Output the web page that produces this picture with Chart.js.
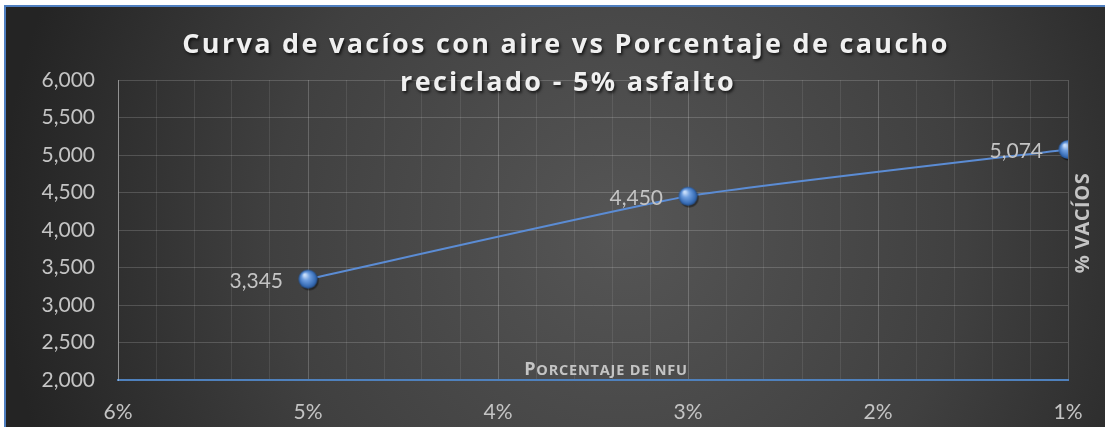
<!DOCTYPE html>
<html><head><meta charset="utf-8">
<script src="https://cdn.jsdelivr.net/npm/chart.js@4"></script>
<style>html,body{margin:0;padding:0;background:#fff;}#wrap{width:1105px;height:427px;}</style>
</head><body><div id="wrap"><canvas id="c" width="1105" height="427"></canvas></div>
<script>
const titleLines = ['Curva de vacíos con aire vs Porcentaje de caucho', 'reciclado - 5% asfalto'];
const xAxisTitle = 'Porcentaje de nfu';
const yAxisTitle = '% VACÍOS';
const nfuPercent = [5, 3, 1];
const vacios = [3.345, 4.450, 5.074];
const xMin = 1, xMax = 6, xMinorStep = 0.2;
const yMin = 2, yMax = 6, yStep = 0.5;

function fmt3(v){ return v.toFixed(3).replace('.', ','); }

function makeSphere(r){
  const s = r*2+6, c = document.createElement('canvas'); c.width = s; c.height = s;
  const g = c.getContext('2d'); const cx = s/2, cy = s/2;
  g.beginPath(); g.arc(cx+1.2, cy+1.8, r, 0, Math.PI*2); g.fillStyle='rgba(0,0,0,0.45)'; g.fill();
  const grad = g.createRadialGradient(cx-r*0.35, cy-r*0.45, r*0.1, cx, cy, r);
  grad.addColorStop(0, '#c9defa'); grad.addColorStop(0.35, '#6f9fe0'); grad.addColorStop(0.8, '#3a6fb8'); grad.addColorStop(1, '#224f8e');
  g.beginPath(); g.arc(cx, cy, r, 0, Math.PI*2); g.fillStyle = grad; g.fill();
  return c;
}
const sphere = makeSphere(9.5);
const labelFont = '21px Lato, "Open Sans", sans-serif';
const labelColor = '#c4c4c4';

const bgPlugin = {
  id: 'bg',
  beforeDraw(chart){
    const ctx = chart.ctx, W = chart.width, H = chart.height;
    ctx.save();
    ctx.fillStyle = '#ffffff'; ctx.fillRect(0,0,W,H);
    const g = ctx.createRadialGradient(620, 230, 10, 620, 230, 620);
    g.addColorStop(0, '#555555'); g.addColorStop(0.55, '#404040'); g.addColorStop(1, '#242424');
    ctx.fillStyle = g; ctx.fillRect(5, 6, W-5, H-6);
    ctx.strokeStyle = '#4f7fc0'; ctx.lineWidth = 2;
    ctx.beginPath(); ctx.moveTo(5, H); ctx.lineTo(5, 6); ctx.lineTo(W, 6); ctx.stroke();
    ctx.restore();
  },
  afterDatasetsDraw(chart){
    const ctx = chart.ctx, meta = chart.getDatasetMeta(0);
    ctx.save();
    ctx.font = labelFont;
    ctx.fillStyle = labelColor; ctx.textAlign = 'right'; ctx.textBaseline = 'middle';
    meta.data.forEach((p, i) => { ctx.fillText(fmt3(vacios[i]), p.x - 25, p.y + 2); });
    ctx.restore();
  },
  afterDraw(chart){
    const ctx = chart.ctx;
    ctx.save();
    ctx.font = 'bold 27px "Open Sans", sans-serif';
    ctx.letterSpacing = '2.3px';
    ctx.textAlign = 'center'; ctx.textBaseline = 'alphabetic';
    ctx.shadowColor = 'rgba(0,0,0,0.7)'; ctx.shadowOffsetX = 1.5; ctx.shadowOffsetY = 2; ctx.shadowBlur = 3;
    ctx.fillStyle = '#f0f0f0';
    ctx.fillText(titleLines[0], 566, 53);
    ctx.fillText(titleLines[1], 568, 91);
    ctx.shadowColor = 'transparent';
    ctx.letterSpacing = '0.8px';
    const words = xAxisTitle.toUpperCase();
    ctx.fillStyle = labelColor; ctx.textBaseline = 'alphabetic'; ctx.textAlign = 'left';
    const bigF = 'bold 18px "Open Sans", sans-serif', smallF = 'bold 14.5px "Open Sans", sans-serif';
    const parts = [];
    for (let i = 0; i < words.length; i++) {
      const orig = xAxisTitle[i];
      const big = (orig !== orig.toLowerCase());
      parts.push({ch: words[i], f: big ? bigF : smallF});
    }
    let total = 0;
    parts.forEach(p => { ctx.font = p.f; p.w = ctx.measureText(p.ch).width; total += p.w; });
    let x = 606 - total/2;
    parts.forEach(p => { ctx.font = p.f; ctx.fillText(p.ch, x, 375); x += p.w; });
    ctx.letterSpacing = '0.5px';
    ctx.translate(1083, 223); ctx.rotate(-Math.PI/2);
    ctx.font = 'bold 20px "Open Sans", sans-serif'; ctx.textAlign = 'center'; ctx.textBaseline = 'middle';
    ctx.fillText(yAxisTitle, 0, 0);
    ctx.restore();
  }
};

new Chart(document.getElementById('c'), {
  type: 'scatter',
  data: { datasets: [{
    data: nfuPercent.map((x, i) => ({x, y: vacios[i]})),
    showLine: true, borderColor: '#5b8cd4', borderWidth: 2, tension: 0.15,
    pointStyle: sphere, pointRadius: 9, pointHoverRadius: 9
  }]},
  plugins: [bgPlugin],
  options: {
    responsive: false, animation: false, devicePixelRatio: 1,
    layout: { padding: { top: 80, right: 37, bottom: 0, left: 0 } },
    plugins: { legend: { display: false }, tooltip: { enabled: false }, title: { display: false } },
    scales: {
      x: {
        type: 'linear', reverse: true, min: xMin, max: xMax,
        afterBuildTicks(scale){
          const t = []; const n = Math.round((xMax - xMin)/xMinorStep);
          for (let k = 0; k <= n; k++) t.push({ value: +(xMin + k*xMinorStep).toFixed(4) });
          scale.ticks = t;
        },
        afterFit(scale){ scale.height = 47; },
        ticks: {
          autoSkip: false, maxRotation: 0, padding: 20, color: labelColor,
          font: { family: 'Lato, "Open Sans", sans-serif', size: 21 },
          callback(v){ return Math.abs(v - Math.round(v)) < 1e-6 ? Math.round(v) + '%' : ''; }
        },
        grid: {
          drawTicks: false,
          color(ctx){ const v = ctx.tick ? ctx.tick.value : 0; return Math.abs(v - Math.round(v)) < 1e-6 ? 'rgba(255,255,255,0.2)' : 'rgba(255,255,255,0.09)'; },
          lineWidth: 1
        },
        border: { color: '#4f81bd', width: 2 }
      },
      y: {
        min: yMin, max: yMax,
        afterFit(scale){ scale.width = 118; },
        ticks: {
          stepSize: yStep, padding: 23, color: labelColor,
          font: { family: 'Lato, "Open Sans", sans-serif', size: 21 },
          callback(v){ return fmt3(v); }
        },
        grid: { drawTicks: false, color: 'rgba(255,255,255,0.17)', lineWidth: 1 },
        border: { color: 'rgba(255,255,255,0.35)', width: 1 }
      }
    }
  }
});
</script></body></html>
